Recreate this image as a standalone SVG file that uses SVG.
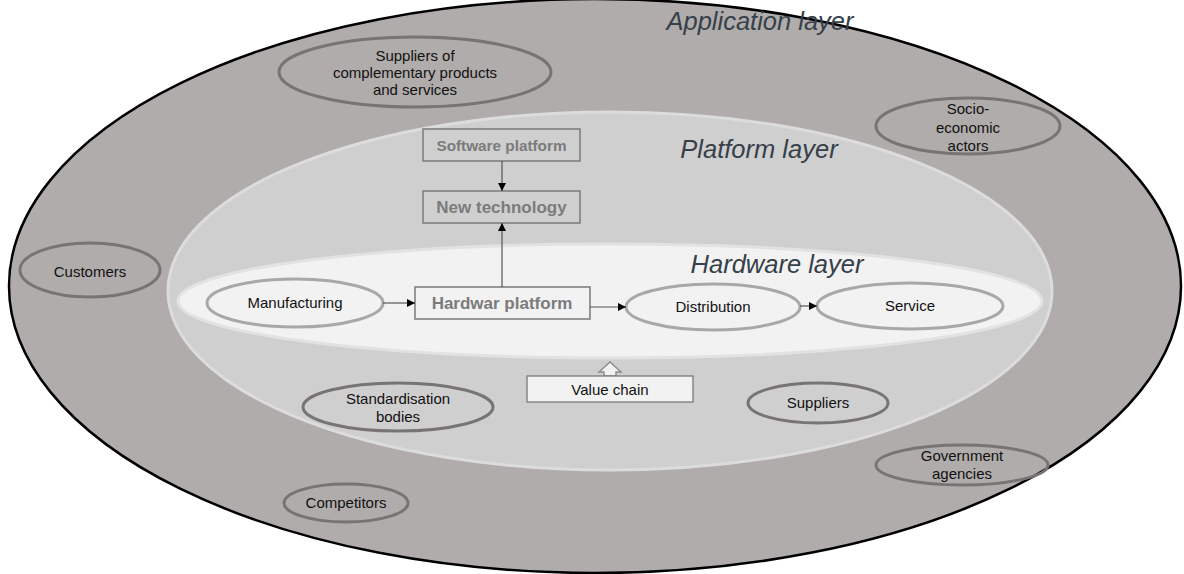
<svg xmlns="http://www.w3.org/2000/svg" width="1184" height="574" viewBox="0 0 1184 574">
  <defs>
    <marker id="arrow" viewBox="0 0 10 10" refX="10" refY="5" markerWidth="8" markerHeight="8" markerUnits="userSpaceOnUse" orient="auto">
      <path d="M0,0 L10,5 L0,10 Z" fill="#000"/>
    </marker>
    <style>
      .layer-label { font-family: "Liberation Sans", Arial, sans-serif; font-style: italic; font-size: 25.5px; fill: #364049; text-anchor: middle; }
      .actor { fill: none; stroke: #787474; stroke-width: 3; }
      .chain { fill: none; stroke: #a8a8a8; stroke-width: 3; }
      .txt { font-family: "Liberation Sans", Arial, sans-serif; font-size: 15px; fill: #111; text-anchor: middle; }
      .box { fill: none; stroke: #808080; stroke-width: 1.6; }
      .boxtxt { font-family: "Liberation Sans", Arial, sans-serif; font-weight: bold; fill: #7b7b7b; text-anchor: middle; }
      .link { fill: none; stroke: #555; stroke-width: 1.2; }
    </style>
  </defs>

  <!-- Layers -->
  <g id="application-layer">
    <ellipse cx="595" cy="286" rx="586" ry="287" fill="#b0acab" stroke="#000" stroke-width="2.5"/>
    <text class="layer-label" x="760" y="30">Application layer</text>
  </g>
  <g id="platform-layer">
    <ellipse cx="610" cy="291" rx="442" ry="179" fill="#d0cfcf" stroke="#dcdcdc" stroke-width="3"/>
    <text class="layer-label" x="759" y="158">Platform layer</text>
  </g>
  <g id="hardware-layer">
    <ellipse cx="610" cy="301" rx="432" ry="57" fill="#f2f2f2" stroke="#e2e2e2" stroke-width="3"/>
    <text class="layer-label" x="777" y="273">Hardware layer</text>
  </g>

  <!-- Ecosystem actors -->
  <g id="suppliers-complementary">
    <ellipse class="actor" cx="415" cy="72" rx="136" ry="35"/>
    <text class="txt" font-size="14" x="415" y="61">Suppliers of</text>
    <text class="txt" font-size="14" x="415" y="78">complementary products</text>
    <text class="txt" font-size="14" x="415" y="95">and services</text>
  </g>
  <g id="socio-economic">
    <ellipse class="actor" cx="968" cy="126" rx="92" ry="28"/>
    <text class="txt" x="968" y="114">Socio-</text>
    <text class="txt" x="968" y="133">economic</text>
    <text class="txt" x="968" y="151">actors</text>
  </g>
  <g id="customers">
    <ellipse class="actor" cx="90" cy="270" rx="70" ry="27"/>
    <text class="txt" x="90" y="277">Customers</text>
  </g>
  <g id="standardisation">
    <ellipse class="actor" cx="398" cy="407" rx="95" ry="24"/>
    <text class="txt" x="398" y="404">Standardisation</text>
    <text class="txt" x="398" y="422">bodies</text>
  </g>
  <g id="suppliers">
    <ellipse class="actor" cx="818" cy="403" rx="70" ry="20"/>
    <text class="txt" x="818" y="408">Suppliers</text>
  </g>
  <g id="government">
    <ellipse class="actor" cx="962" cy="465" rx="86" ry="20"/>
    <text class="txt" x="962" y="461">Government</text>
    <text class="txt" x="962" y="479">agencies</text>
  </g>
  <g id="competitors">
    <ellipse class="actor" cx="346" cy="503" rx="62" ry="19"/>
    <text class="txt" x="346" y="508">Competitors</text>
  </g>

  <!-- Platform boxes -->
  <g id="software-platform">
    <rect class="box" x="423" y="129" width="157" height="32"/>
    <text class="boxtxt" font-size="15.3" x="501.5" y="151">Software platform</text>
  </g>
  <g id="new-technology">
    <rect class="box" x="423" y="191" width="157" height="32"/>
    <text class="boxtxt" font-size="17" x="501.5" y="213">New technology</text>
  </g>
  <g id="hardware-platform">
    <rect class="box" x="415" y="287" width="175" height="32"/>
    <text class="boxtxt" font-size="17" x="502" y="309">Hardwar platform</text>
  </g>

  <!-- Value chain stages -->
  <g id="manufacturing">
    <ellipse class="chain" cx="295" cy="303" rx="88" ry="24"/>
    <text class="txt" x="295" y="308">Manufacturing</text>
  </g>
  <g id="distribution">
    <ellipse class="chain" cx="713" cy="307" rx="87" ry="23"/>
    <text class="txt" x="713" y="312">Distribution</text>
  </g>
  <g id="service">
    <ellipse class="chain" cx="910" cy="306" rx="93" ry="23"/>
    <text class="txt" x="910" y="311">Service</text>
  </g>
  <g id="value-chain">
    <path d="M610,362 L621,372 L616,372 L616,376 L604,376 L604,372 L599,372 Z" fill="#f2f2f2" stroke="#8a8a8a" stroke-width="1.4"/>
    <rect x="527" y="376" width="166" height="26" fill="#f2f2f2" stroke="#808080" stroke-width="1.4"/>
    <text class="txt" font-size="16.5" x="610" y="395">Value chain</text>
  </g>

  <!-- Connectors -->
  <g id="connectors">
    <line class="link" x1="502" y1="161" x2="502" y2="191" marker-end="url(#arrow)"/>
    <line class="link" x1="502" y1="287" x2="502" y2="223" marker-end="url(#arrow)"/>
    <line class="link" x1="383" y1="303" x2="415" y2="303" marker-end="url(#arrow)"/>
    <line class="link" x1="590" y1="307" x2="626" y2="307" marker-end="url(#arrow)"/>
    <line class="link" x1="800" y1="306" x2="817" y2="306" marker-end="url(#arrow)"/>
  </g>
</svg>
